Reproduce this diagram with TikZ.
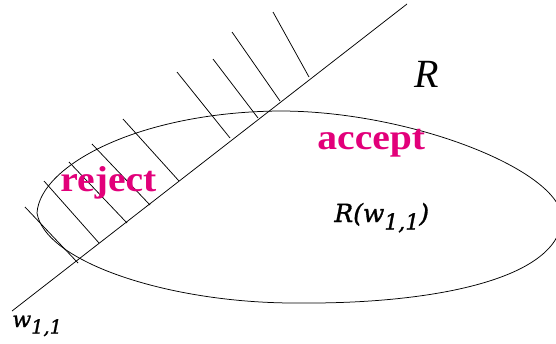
\documentclass[tikz,border=0pt]{standalone}
\usepackage{fontspec}
\setmainfont{Liberation Serif}
\newfontfamily\magfont{Liberation Serif}[FakeStretch=1.1]
\newfontfamily\mathfont{DejaVu Serif}[FakeBold=1.2]
\definecolor{mag}{RGB}{226,0,122}
\newcommand{\mysub}[1]{\raisebox{-0.3em}{\fontsize{0.88em}{1em}\selectfont #1}}
\begin{document}
\begin{tikzpicture}[x=1pt,y=-1pt,line width=0.75pt,
  curvestyle/.style={draw=black,line width=0.75pt},
  hatchline/.style={draw=black,line width=0.75pt},
  maglbl/.style={text=mag,font=\magfont\fontsize{36}{40}\selectfont\bfseries,inner sep=0pt,anchor=base west},
  mathlbl/.style={text=black,inner sep=0pt,anchor=base west}]
\useasboundingbox (0,0) rectangle (556,343);
\begin{scope}
\clip (0,0) rectangle (556,343);
\coordinate (cl) at (37,213);
\coordinate (ct) at (280,111);
\coordinate (cr) at (562,218);
\coordinate (cb) at (300,303);
\draw[curvestyle] (cl) .. controls (40,165) and (140,112) .. (ct)
  .. controls (410,111) and (560,170) .. (cr)
  .. controls (560,280) and (430,304) .. (cb)
  .. controls (170,304) and (45,262) .. (cl) -- cycle;
\end{scope}
\coordinate (la) at (12,311);
\coordinate (lb) at (407,4);
\draw[hatchline] (la) -- (lb);
\foreach \i/\xa/\ya/\xb/\yb in {
  1/25/207/78/263, 2/44/181/99/243, 3/69/162/127/223, 4/92/144/150/205,
  5/123/119/179/181, 6/177/72/230/138, 7/213/59/258/118, 8/232/32/280/101,
  9/273/12/309/77}{
  \coordinate (h\i a) at (\xa,\ya);
  \coordinate (h\i b) at (\xb,\yb);
  \draw[hatchline] (h\i a) -- (h\i b);
}
\node[maglbl] (rej) at (60,191) {reject};
\node[maglbl] (acc) at (317,149) {accept};
\node[mathlbl,font=\fontsize{40}{44}\selectfont\itshape] (R) at (414,87) {R};
\node[mathlbl,font=\mathfont\fontsize{25}{29}\selectfont\itshape] (Rw) at (334,222) {R(w\mysub{1,1})};
\node[mathlbl,font=\mathfont\fontsize{22}{26}\selectfont\itshape] (w) at (12,327) {w\mysub{1,1}};
\end{tikzpicture}
\end{document}
